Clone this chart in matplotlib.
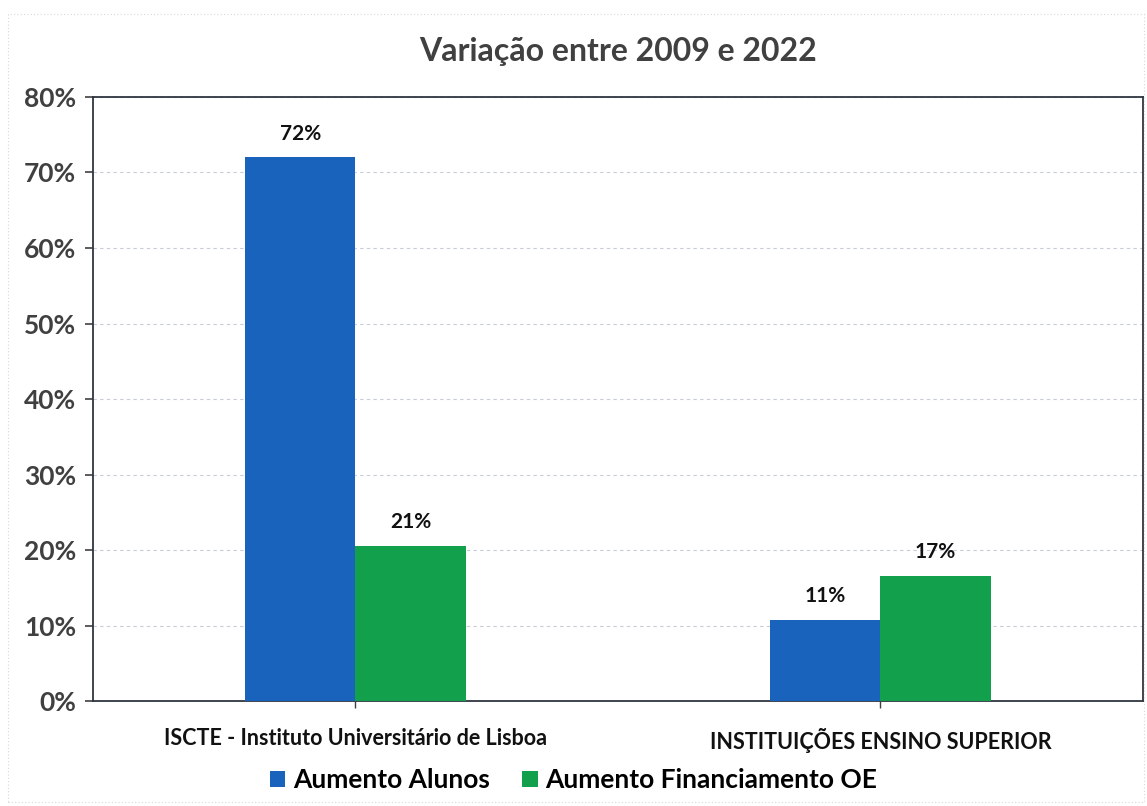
import matplotlib.pyplot as plt
import numpy as np
from matplotlib.patches import Rectangle

categorias = ["ISCTE - Instituto Universitário de Lisboa", "INSTITUIÇÕES ENSINO SUPERIOR"]
aumento_alunos = [72.0, 10.8]
aumento_financiamento = [20.6, 16.6]
series = ["Aumento Alunos", "Aumento Financiamento OE"]
yticks = [0, 10, 20, 30, 40, 50, 60, 70, 80]

plt.rcParams['font.family'] = ['Lato', 'DejaVu Sans']

AZUL = "#1a63bd"
VERDE = "#13a04c"
CINZA = "#404040"

fig = plt.figure(figsize=(11.47, 8.06), dpi=100)
ax = fig.add_axes([0.081, 0.130, 0.9155, 0.7497])

# moldura da área do gráfico
fig.patches.append(Rectangle((0.007, 0.005), 0.99, 0.978, transform=fig.transFigure,
                             fill=False, edgecolor="#d8d8d8", lw=0.8, ls=(0, (1, 2))))

x = np.arange(len(categorias))
w = 0.21
b1 = ax.bar(x - w / 2, aumento_alunos, w, color=AZUL, label=series[0], zorder=3)
b2 = ax.bar(x + w / 2, aumento_financiamento, w, color=VERDE, label=series[1], zorder=3)

for barras in (b1, b2):
    for b in barras:
        h = b.get_height()
        ax.text(b.get_x() + b.get_width() / 2, h + 1.8, f"{h:.0f}%", ha="center", va="bottom",
                fontsize=15, fontweight="bold", color="#111111")

ax.set_xlim(-0.5, 1.5)
ax.set_ylim(0, 80)
ax.set_yticks(yticks)
ax.set_yticklabels([f"{v}%" for v in yticks], fontsize=19, fontweight="bold", color=CINZA)
ax.set_xticks(x)
ax.set_xticklabels(categorias, fontsize=15.5, fontweight="bold", color="#111111")
ax.tick_params(axis="y", length=6, width=1.2, color=CINZA, pad=6)
ax.tick_params(axis="x", length=5, width=1, color=CINZA, pad=14)

ax.grid(axis="y", color="#c8cbd8", lw=0.8, ls=(0, (3, 3)), zorder=0)
for s in ax.spines.values():
    s.set_color("#2f3640")
    s.set_linewidth(1.3)

ax.set_title("Variação entre 2009 e 2022", fontsize=23, fontweight="bold", color=CINZA, pad=26)

fig.legend(handles=[b1, b2], loc="center", bbox_to_anchor=(0.5, 0.032), ncol=2, frameon=False,
           prop={"size": 19, "weight": "bold"}, handlelength=0.6, handleheight=0.6,
           handletextpad=0.3, columnspacing=1.2)

fig.savefig("out.png", dpi=100)
